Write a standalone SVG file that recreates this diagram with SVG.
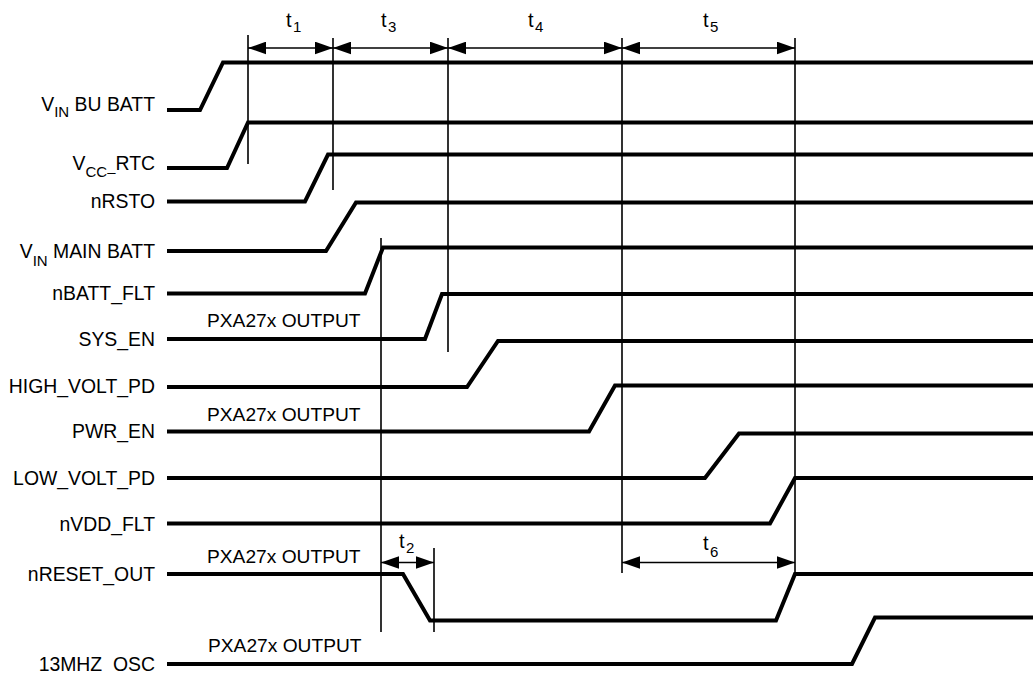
<svg xmlns="http://www.w3.org/2000/svg" width="1033" height="673" viewBox="0 0 1033 673">
<style>
text{font-family:"Liberation Sans",Arial,Helvetica,sans-serif;fill:#000}
.lbl{font-size:19.4px;text-anchor:end}
.sub{font-size:15px}
.note{font-size:19.2px}
.t{font-size:20px}
.ts{font-size:15px}
.wave{fill:none;stroke:#000;stroke-width:4;stroke-linejoin:miter;stroke-linecap:butt}
.guide{fill:none;stroke:#000;stroke-width:1.6}
.dim{fill:none;stroke:#000;stroke-width:1.6;marker-start:url(#ah);marker-end:url(#ah)}
</style>
<defs>
<marker id="ah" markerUnits="userSpaceOnUse" markerWidth="18" markerHeight="13" viewBox="0 0 17 12" refX="17" refY="6" orient="auto-start-reverse">
<path d="M0,0 L17,6 L0,12 Z" fill="#000"/>
</marker>
</defs>
<rect width="1033" height="673" fill="#fff"/>

<g id="sig-vin-bu-batt">
<text class="lbl" x="155" y="111">V<tspan class="sub" dy="6">IN</tspan><tspan dy="-6"> BU BATT</tspan></text>
<path class="wave" d="M167,110 H200 L223,62.5 H1033"/>
</g>
<g id="sig-vcc-rtc">
<text class="lbl" x="155" y="170">V<tspan class="sub" dy="7">CC–</tspan><tspan dy="-7">RTC</tspan></text>
<path class="wave" d="M167,168 H227 L248,122.5 H1033"/>
</g>
<g id="sig-nrsto">
<text class="lbl" x="155" y="208">nRSTO</text>
<path class="wave" d="M167,201.5 H305 L328,154.5 H1033"/>
</g>
<g id="sig-vin-main-batt">
<text class="lbl" x="155" y="258">V<tspan class="sub" dy="8">IN</tspan><tspan dy="-8"> MAIN BATT</tspan></text>
<path class="wave" d="M167,251 H326 L356,202.5 H1033"/>
</g>
<g id="sig-nbatt-flt">
<text class="lbl" x="155" y="300">nBATT_FLT</text>
<path class="wave" d="M167,293.5 H365 L383,247.5 H1033"/>
</g>
<g id="sig-sys-en">
<text class="note" x="207" y="327">PXA27x OUTPUT</text>
<text class="lbl" x="155" y="346">SYS_EN</text>
<path class="wave" d="M167,339 H425 L442,294 H1033"/>
</g>
<g id="sig-high-volt-pd">
<text class="lbl" x="155" y="393">HIGH_VOLT_PD</text>
<path class="wave" d="M167,387 H467 L498,341 H1033"/>
</g>
<g id="sig-pwr-en">
<text class="note" x="207" y="421">PXA27x OUTPUT</text>
<text class="lbl" x="155" y="438">PWR_EN</text>
<path class="wave" d="M167,431.5 H589 L615,385.5 H1033"/>
</g>
<g id="sig-low-volt-pd">
<text class="lbl" x="155" y="485">LOW_VOLT_PD</text>
<path class="wave" d="M167,478 H705 L739,433.5 H1033"/>
</g>
<g id="sig-nvdd-flt">
<text class="lbl" x="155" y="531">nVDD_FLT</text>
<path class="wave" d="M167,523.5 H770 L795,478 H1033"/>
</g>
<g id="sig-nreset-out">
<text class="note" x="207" y="563">PXA27x OUTPUT</text>
<text class="lbl" x="155" y="581">nRESET_OUT</text>
<path class="wave" d="M167,574 H403 L430,620.5 H776 L795,574 H1033"/>
</g>
<g id="sig-13mhz-osc">
<text class="note" x="208" y="652">PXA27x OUTPUT</text>
<text class="lbl" x="155" y="671">13MHZ_OSC</text>
<path class="wave" d="M167,664 H852 L875,617.5 H1033"/>
</g>

<g id="connectors">
<path class="guide" d="M248,35 V164 M333,38 V190 M448,38 V352 M622,38 V573 M795,38 V573 M381,238 V632 M434,548 V632"/>
<line class="dim" x1="248" y1="48" x2="333" y2="48"/>
<line class="dim" x1="333" y1="48" x2="448" y2="48"/>
<line class="dim" x1="448" y1="48" x2="622" y2="48"/>
<line class="dim" x1="622" y1="48" x2="795" y2="48"/>
<line class="dim" x1="381" y1="562.5" x2="434" y2="562.5"/>
<line class="dim" x1="622" y1="562.5" x2="795" y2="562.5"/>
</g>

<g id="timing-labels">
<text class="t" x="286" y="27">t<tspan class="ts" x="293" y="32">1</tspan></text>
<text class="t" x="381" y="27">t<tspan class="ts" x="388" y="32">3</tspan></text>
<text class="t" x="528" y="27">t<tspan class="ts" x="535" y="32">4</tspan></text>
<text class="t" x="703" y="27">t<tspan class="ts" x="710" y="32">5</tspan></text>
<text class="t" x="399" y="548">t<tspan class="ts" x="406" y="553">2</tspan></text>
<text class="t" x="703" y="550">t<tspan class="ts" x="710" y="557">6</tspan></text>
</g>
</svg>
